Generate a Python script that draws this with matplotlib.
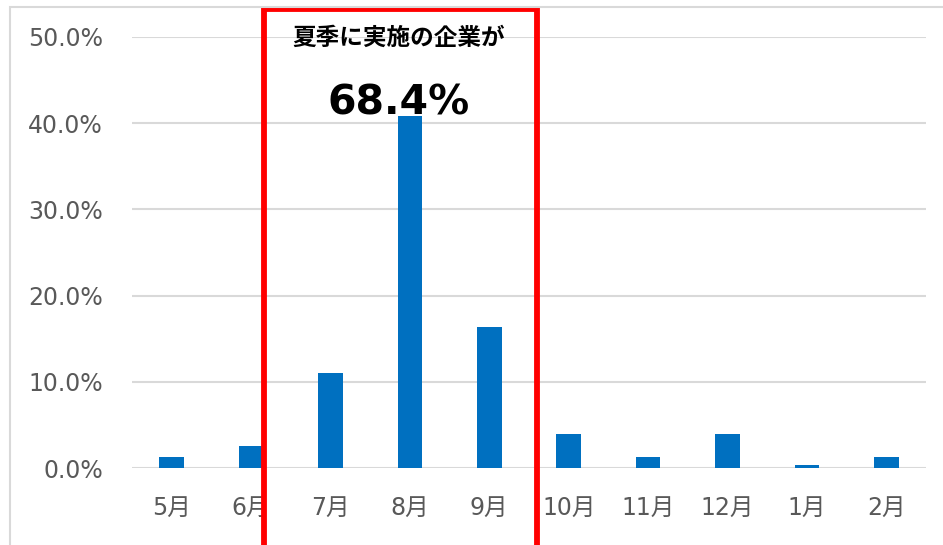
import matplotlib
matplotlib.use("Agg")
import matplotlib.pyplot as plt
import matplotlib.transforms as mtransforms
from matplotlib.patches import Rectangle

plt.rcParams['font.family'] = ['DejaVu Sans', 'Noto Sans CJK JP']

# data
months = ['5月', '6月', '7月', '8月', '9月', '10月', '11月', '12月', '1月', '2月']
shares = [0.013, 0.026, 0.110, 0.408, 0.164, 0.039, 0.013, 0.039, 0.004, 0.013]
y_ticks = [0.0, 0.1, 0.2, 0.3, 0.4, 0.5]
headline = '夏季に実施の企業が'
summer_total = '68.4%'

bar_color = '#0070C0'
grid_color = '#D9D9D9'
tick_color = '#595959'

fig = plt.figure(figsize=(9.43, 5.45), dpi=100)
ax = fig.add_axes([132 / 943, 1 - 468 / 545, (926 - 132) / 943, (468 - 37) / 545])

x = range(len(months))
ax.bar(x, shares, width=0.31, color=bar_color, zorder=3)

ax.set_xlim(-0.5, len(months) - 0.5)
ax.set_ylim(0, 0.5)
ax.set_yticks(y_ticks)
ax.set_yticklabels([f'{v * 100:.1f}%' for v in y_ticks])
ax.set_xticks(list(x))
ax.set_xticklabels(months)
ax.tick_params(axis='both', length=0, labelsize=17, colors=tick_color)
ax.tick_params(axis='y', pad=21)
ax.tick_params(axis='x', pad=20)

ax.grid(axis='y', color=grid_color, linewidth=1.5, zorder=0)
for s in ax.spines.values():
    s.set_visible(False)

# outer chart frame (only top/left edges visible in the crop)
fig.patches.append(Rectangle((10 / 943, -0.1), 1.1, 1 - 6.5 / 545 + 0.1,
                             transform=fig.transFigure, fill=False,
                             edgecolor=grid_color, linewidth=1.5))

# red box around the summer months
trans = mtransforms.blended_transform_factory(ax.transData, ax.transAxes)
ax.add_patch(Rectangle((1.165, -0.4), 3.44, 1.4 + 0.0655, transform=trans,
                       fill=False, edgecolor='#FF0000', linewidth=4.2,
                       clip_on=False, zorder=5))

ax.text(2.86, 0.998, headline, transform=trans, ha='center', va='center',
        fontsize=17, fontweight='bold', family=['Noto Sans CJK JP'], zorder=6)
ax.text(2.86, 0.845, summer_total, transform=trans, ha='center', va='center',
        fontsize=29.5, fontweight='bold', zorder=6)

fig.savefig('out.png', dpi=100)
